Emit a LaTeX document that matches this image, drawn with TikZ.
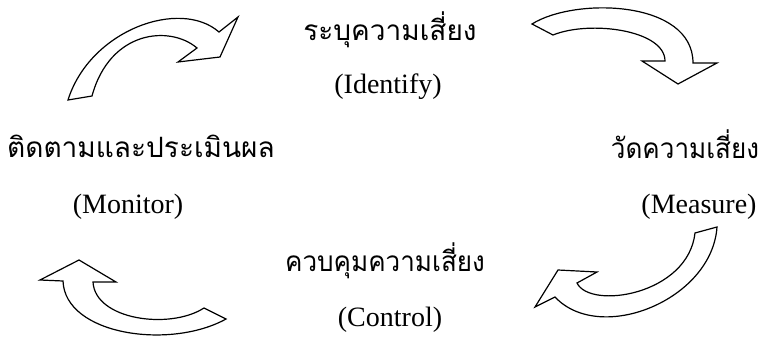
\documentclass[tikz,border=0pt]{standalone}
\usepackage{fontspec}
\setmainfont{Liberation Serif}
\newfontfamily\thaifont[Script=Thai]{Loma}

\tikzset{
  thaitext/.style={font=\thaifont\fontsize{28}{32}\selectfont, inner sep=0pt},
  engtext/.style={font=\fontsize{28}{32}\selectfont, inner sep=0pt},
  curvedarrow/.style={draw=black, line width=1.2pt, fill=white, line join=miter}
}

\begin{document}
\begin{tikzpicture}[x=1pt, y=-1pt]
    \useasboundingbox (0,0) rectangle (763,342);

    % Step labels
    \node[thaitext] (identifyth) at (390,29.5) {ระบุความเสี่ยง};
    \node[engtext] (identifyen) at (388,87) {(Identify)};
    \node[thaitext, xscale=0.93] (measureth) at (685,144.5) {วัดความเสี่ยง};
    \node[engtext] (measureen) at (699,207) {(Measure)};
    \node[thaitext, xscale=0.93] (controlth) at (385,260.5) {ควบคุมความเสี่ยง};
    \node[engtext] (controlen) at (390,320) {(Control)};
    \node[thaitext] (monitorth) at (141,146.5) {ติดตามและประเมินผล};
    \node[engtext] (monitoren) at (128,207) {(Monitor)};

    % Arrow top left
    \draw[curvedarrow] (68,100) .. controls (90,30) and (180,-2) .. (219,32)
        -- (238,17) -- (220,57) -- (178,62) -- (197,48)
        .. controls (170,25) and (110,30) .. (92,96) -- cycle;
    % Arrow top right
    \draw[curvedarrow] (532,24) .. controls (575,-3) and (693,0) .. (693,63)
        -- (717,63) -- (678,84) -- (642,61) -- (665,61)
        .. controls (665,30) and (590,20) .. (553,35) -- cycle;
    % Arrow bottom right
    \draw[curvedarrow] (717,227) .. controls (712,300) and (600,345) .. (555,297)
        -- (535,307) -- (558,270) -- (597,272) -- (577,283)
        .. controls (590,310) and (688,295) .. (695,233) -- cycle;
    % Arrow bottom left
    \draw[curvedarrow] (226,319) .. controls (170,350) and (65,335) .. (63,281)
        -- (40,280) -- (79,260) -- (116,282) -- (93,282)
        .. controls (95,320) and (170,330) .. (204,308) -- cycle;
\end{tikzpicture}
\end{document}
